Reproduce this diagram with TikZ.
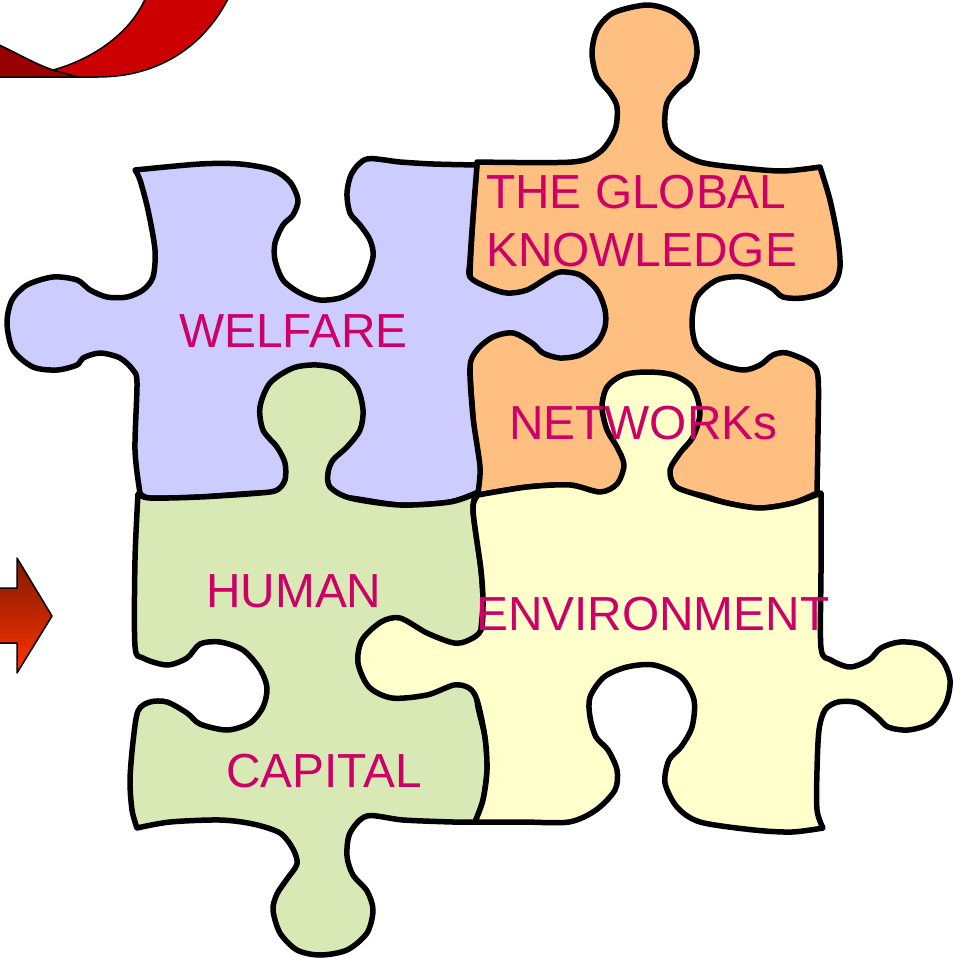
\documentclass[tikz,border=0pt]{standalone}
\usepackage{fontspec}
\setmainfont{Liberation Sans}
\definecolor{bluefill}{HTML}{CCCCFF}
\definecolor{orangefill}{HTML}{FFBF80}
\definecolor{greenfill}{HTML}{D8E9B5}
\definecolor{yellowfill}{HTML}{FFFFCC}
\definecolor{labelc}{HTML}{CC0066}
\definecolor{swooshred}{HTML}{CC0000}
\definecolor{swooshdark}{HTML}{990000}
\definecolor{arrowtop}{HTML}{7F1A00}
\definecolor{arrowbot}{HTML}{FF3300}
\begin{document}
\begin{tikzpicture}[x=1pt,y=-1pt,
  piece/.style={draw=black, line width=5.5pt, line join=round},
  lbl/.style={text=labelc, font=\fontsize{47.8}{52}\selectfont, anchor=base west, inner sep=0pt},
  thinline/.style={draw=black, line width=1.5pt, line join=round}]
\useasboundingbox (0,0) rectangle (953,958);
\clip (0,0) rectangle (953,958);

% red ribbon in the upper left corner
\path[thinline, fill=swooshdark] (-5,43) .. controls (15,52) and (35,64) .. (53,70) -- (78,77) -- (-5,77) -- cycle;
\path[thinline, fill=swooshred] (53,70) .. controls (90,60) and (130,35) .. (146,-3)
  -- (229,-3) .. controls (205,45) and (160,77) .. (98,77) -- (78,77) -- cycle;

% arrow on the left edge
\draw[thinline, top color=arrowtop, bottom color=arrowbot]
  (-5,588) -- (17,588) -- (17,558) -- (52,616) -- (17,673) -- (17,643) -- (-5,643) -- cycle;

% orange piece
\path[piece, fill=orangefill]
  plot[smooth] coordinates {(477,162) (572,162) (600,152) (615,130) (617,107) (610,93) (597,77) (592,53) (597,30) (613,13) (647,5) (673,12) (692,30) (697,53) (690,77) (678,88) (667,103) (665,127) (673,147) (700,162) (743,168) (783,171) (820,167)}
  -- plot[smooth] coordinates {(820,167) (830,200) (838,240) (840,267) (835,283) (823,293) (803,298) (783,297) (770,287) (743,277) (717,280) (697,297) (692,323) (697,347) (717,363) (743,370) (760,365) (773,355) (787,353) (810,363) (818,377) (818,433) (817,493)}
  -- plot[smooth] coordinates {(817,493) (793,503) (760,508) (727,503) (695,494) (640,488) (600,492) (570,485) (527,487) (478,495)}
  -- plot[smooth] coordinates {(478,495) (473,417) (470,367) (470,277) (473,217) (477,162)} -- cycle;

% blue piece
\path[piece, fill=bluefill]
  plot[smooth] coordinates {(135,170) (200,164) (240,164) (273,170) (290,182) (298,200) (293,215) (283,225) (275,243) (275,260) (283,280) (300,293) (320,300) (343,297) (363,283) (373,257) (370,240) (360,225) (350,213) (347,193) (352,173) (367,159) (400,162) (433,164) (477,165)}
  -- plot[smooth] coordinates {(477,165) (473,217) (470,260) (470,277) (487,287) (507,293) (527,290) (547,278) (560,272) (580,275) (597,290) (605,310) (605,327) (597,343) (580,355) (560,358) (543,353) (532,343) (513,333) (493,337) (477,350) (470,367) (473,417) (480,467) (478,492)}
  -- plot[smooth] coordinates {(478,492) (450,502) (400,505) (350,498) (300,495) (260,493) (200,497) (150,498) (140,493)}
  -- plot[smooth] coordinates {(140,493) (135,450) (137,383) (133,370) (120,358) (100,353) (83,358) (77,365) (57,370) (33,367) (13,350) (7,323) (12,300) (27,285) (53,277) (77,280) (90,290) (107,297) (127,297) (143,290) (153,277) (155,250) (148,210) (140,180) (135,170)} -- cycle;

% green piece
\path[piece, fill=greenfill]
  plot[smooth] coordinates {(138,494) (150,498) (200,497) (260,493) (277,490) (285,480) (285,463) (277,447) (263,430) (260,407) (270,383) (293,368) (317,365) (340,370) (357,387) (363,410) (360,430) (347,447) (333,460) (328,473) (330,487) (350,498) (400,505) (450,502) (477,493)}
  -- plot[smooth] coordinates {(477,493) (473,510) (481,570) (483,603) (481,630) (480,665) (477,700) (485,737) (487,770) (483,800) (475,822)}
  -- plot[smooth] coordinates {(475,822) (453,822) (403,820) (367,816) (350,833) (347,856) (353,875) (367,891) (373,910) (367,933) (347,950) (320,955) (297,950) (280,933) (273,910) (277,894) (287,879) (297,864) (293,849) (280,833) (253,824) (220,820) (170,822) (137,828)}
  -- plot[smooth] coordinates {(137,828) (132,810) (130,780) (133,742) (138,711) (150,702) (167,702) (187,713) (200,724) (227,730) (250,723) (263,707) (267,688) (260,669) (243,650) (220,642) (200,644) (187,658) (167,665) (143,658) (135,646) (135,560) (138,494)} -- cycle;

% yellow piece
\path[piece, fill=yellowfill]
  plot[smooth] coordinates {(478,495) (527,487) (570,485) (600,492) (617,484) (624,465) (617,447) (607,430) (602,407) (607,387) (623,375) (647,372) (673,375) (693,388) (700,413) (693,437) (680,453) (670,470) (675,486) (695,494) (727,503) (760,508) (793,503) (821,493)}
  -- plot[smooth] coordinates {(821,493) (821,570) (821,648) (831,660) (850,667) (869,660) (881,648) (900,642) (923,645) (942,660) (950,680) (946,703) (931,723) (908,730) (888,727) (877,717) (858,703) (838,702) (825,710) (819,730) (817,770) (817,810) (823,828)}
  -- plot[smooth] coordinates {(823,828) (792,832) (754,830) (700,822) (677,807) (665,783) (669,760) (681,747) (692,727) (694,700) (681,677) (654,665) (627,667) (604,677) (590,697) (590,717) (596,737) (608,750) (617,770) (615,790) (596,810) (569,822) (523,822) (475,822)}
  -- plot[smooth] coordinates {(475,822) (483,800) (487,770) (485,737) (477,700) (469,688) (454,685) (427,695) (392,698) (369,687) (358,663) (362,640) (381,622) (400,618) (427,633) (454,643) (469,640) (481,630) (483,603) (481,570) (473,510) (478,495)} -- cycle;

% labels
\node[lbl] (welfare) at (179,347) {WELFARE};
\node[lbl] (global) at (486,208) {THE GLOBAL};
\node[lbl] (knowledge) at (486,266) {KNOWLEDGE};
\node[lbl] (networks) at (509,439) {NETWORKs};
\node[lbl] (human) at (206,607) {HUMAN};
\node[lbl] (capital) at (226,787) {CAPITAL};
\node[lbl] (environment) at (476,630) {ENVIRONMENT};
\end{tikzpicture}
\end{document}
